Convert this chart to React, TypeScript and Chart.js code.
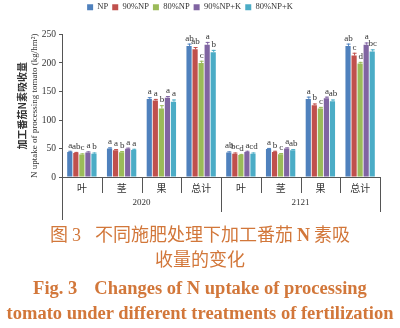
import React, { useEffect, useRef } from "react";
import { Chart, registerables, layouts } from "chart.js";

Chart.register(...registerables);

const categories = ["叶", "茎", "果", "总计", "叶", "茎", "果", "总计"];
const years = ["2020", "2121"];
const seriesNames = ["NP", "90%NP", "80%NP", "90%NP+K", "80%NP+K"];
const colors = ["#4F81BD", "#C0504D", "#9BBB59", "#8064A2", "#4BACC6"];

const npValues = [44, 50, 137, 230, 43, 49, 137, 230];
const np90Values = [42, 47, 134, 224, 41, 44, 126, 213];
const np80Values = [39.5, 43.5, 120, 200, 38.5, 40, 120, 199];
const np90kValues = [43, 49.5, 139, 232, 44, 50, 138, 232];
const np80kValues = [41, 47.5, 132, 219, 41, 47, 133, 220];

const npErr = [2, 2, 3, 4, 2, 2, 4, 4];
const np90Err = [2, 2, 3, 4, 2, 2, 3, 5];
const np80Err = [2, 2, 6, 4, 2, 2, 3, 3];
const np90kErr = [2, 2, 3, 5, 2, 2, 3, 4];
const np80kErr = [2, 2, 4, 4, 2, 2, 3, 4];

const npLetters = ["a", "a", "a", "ab", "ab", "a", "a", "ab"];
const np90Letters = ["ab", "a", "a", "ab", "bc", "b", "b", "c"];
const np80Letters = ["c", "b", "b", "c", "d", "c", "c", "d"];
const np90kLetters = ["a", "a", "a", "a", "a", "a", "a", "a"];
const np80kLetters = ["b", "a", "a", "b", "cd", "ab", "ab", "bc"];

const yTicks = [0, 50, 100, 150, 200, 250];

const allValues = [npValues, np90Values, np80Values, np90kValues, np80kValues];
const allErr = [npErr, np90Err, np80Err, np90kErr, np80kErr];
const allLetters = [npLetters, np90Letters, np80Letters, np90kLetters, np80kLetters];

const AXIS = "#555";
const TEXT = "#333";

const spacerPlugin = {
  id: "legendSpacer",
  start(chart: any) {
    const box: any = {
      position: "top",
      weight: 0,
      fullSize: true,
      options: { position: "top", weight: 0, fullSize: true },
      left: 0,
      top: 0,
      right: 0,
      bottom: 0,
      width: 0,
      height: 0,
      update(maxWidth: number) {
        this.width = maxWidth;
        this.height = 13;
      },
      isHorizontal() {
        return true;
      },
      draw() {},
    };
    layouts.addBox(chart, box);
  },
};

const extrasPlugin = {
  id: "extras",
  afterDatasetsDraw(chart: any) {
    const ctx = chart.ctx;
    const ys = chart.scales.y;
    const xs = chart.scales.x;
    const area = chart.chartArea;
    ctx.save();
    chart.data.datasets.forEach((ds: any, i: number) => {
      const meta = chart.getDatasetMeta(i);
      meta.data.forEach((bar: any, j: number) => {
        const v = allValues[i][j];
        const e = allErr[i][j];
        const yTop = ys.getPixelForValue(v + e);
        const x = bar.x;
        ctx.strokeStyle = colors[i];
        ctx.lineWidth = 1;
        ctx.beginPath();
        ctx.moveTo(x + 0.5, bar.y);
        ctx.lineTo(x + 0.5, yTop);
        ctx.moveTo(x - 1.5, yTop + 0.5);
        ctx.lineTo(x + 2.5, yTop + 0.5);
        ctx.stroke();
        ctx.fillStyle = TEXT;
        ctx.font = "9px 'Liberation Serif'";
        ctx.textAlign = "center";
        ctx.textBaseline = "alphabetic";
        ctx.fillText(allLetters[i][j], x + 0.5, yTop - 3);
      });
    });
    const n = categories.length;
    const step = (area.right - area.left) / n;
    ctx.strokeStyle = AXIS;
    ctx.lineWidth = 1;
    ctx.beginPath();
    for (let k = 1; k < n; k++) {
      const bx = Math.round(area.left + step * k) + 0.5;
      ctx.moveTo(bx, area.bottom);
      ctx.lineTo(bx, k === n / 2 ? area.bottom + 35 : area.bottom + 16);
    }
    const rx = Math.round(area.right) + 0.5;
    ctx.moveTo(rx, area.bottom);
    ctx.lineTo(rx, area.bottom + 35);
    const lx = Math.round(area.left) + 0.5;
    ctx.moveTo(lx, area.bottom);
    ctx.lineTo(lx, area.bottom + 43);
    ctx.stroke();

    ctx.fillStyle = TEXT;
    ctx.textAlign = "center";
    ctx.textBaseline = "middle";
    ctx.font = "10px 'Noto Sans CJK SC'";
    for (let j = 0; j < n; j++) {
      const cx = xs.getPixelForValue(j);
      ctx.fillText(categories[j], cx, area.bottom + 11);
    }
    ctx.font = "9px 'Liberation Serif'";
    for (let g = 0; g < years.length; g++) {
      const cx = area.left + step * (g * 4 + 2);
      ctx.fillText(years[g], cx, area.bottom + 26);
    }

    const cy = (area.top + area.bottom) / 2;
    ctx.save();
    ctx.translate(22, cy);
    ctx.rotate(-Math.PI / 2);
    ctx.font = "bold 10px 'Noto Sans CJK SC'";
    ctx.fillStyle = TEXT;
    ctx.fillText("加工番茄N素吸收量", 0, 0);
    ctx.restore();
    ctx.save();
    ctx.translate(35, cy);
    ctx.rotate(-Math.PI / 2);
    ctx.font = "9px 'Liberation Serif'";
    ctx.fillStyle = TEXT;
    ctx.fillText("N uptake of processing tomato (kg/hm²)", 0, 0);
    ctx.restore();
    ctx.restore();
  },
};

function BarChart() {
  const ref = useRef<HTMLCanvasElement>(null);
  useEffect(() => {
    if (!ref.current) return;
    const chart = new Chart(ref.current, {
      type: "bar",
      data: {
        labels: categories.map((c, i) => (i < 4 ? years[0] : years[1]) + c),
        datasets: seriesNames.map((name, i) => ({
          label: name,
          data: allValues[i],
          backgroundColor: colors[i],
          borderWidth: 0,
          categoryPercentage: 0.76,
          barPercentage: 0.86,
        })),
      },
      options: {
        animation: false,
        responsive: false,
        layout: { padding: { left: 0, right: 20, top: -1, bottom: 45 } },
        plugins: {
          legend: {
            display: true,
            position: "top",
            labels: {
              boxWidth: 6,
              boxHeight: 6,
              padding: 4,
              color: TEXT,
              font: { size: 8.5, family: "'Liberation Serif'" },
            },
          },
          tooltip: { enabled: false },
        },
        scales: {
          x: {
            ticks: { display: false },
            grid: { display: false },
            border: { display: true, color: AXIS },
            afterFit: (s: any) => {
              s.height = 0;
            },
          },
          y: {
            min: 0,
            max: 250,
            afterBuildTicks: (s: any) => {
              s.ticks = yTicks.map((v) => ({ value: v }));
            },
            ticks: {
              color: TEXT,
              padding: 3,
              font: { size: 9.5, family: "'Liberation Serif'" },
            },
            grid: {
              display: true,
              drawOnChartArea: false,
              drawTicks: true,
              tickLength: 3,
              color: AXIS,
            },
            border: { display: true, color: AXIS },
            afterFit: (s: any) => {
              s.width = 62;
            },
          },
        },
      },
      plugins: [spacerPlugin, extrasPlugin],
    });
    return () => chart.destroy();
  }, []);
  return <canvas ref={ref} width={400} height={222} style={{ display: "block" }} />;
}

const CAP = "#D2773A";

export default function App() {
  const zh: React.CSSProperties = {
    position: "absolute",
    left: 0,
    width: 400,
    textAlign: "center",
    color: CAP,
    fontFamily: "'Noto Sans CJK SC'",
    fontSize: 18,
    lineHeight: "22px",
    whiteSpace: "nowrap",
  };
  const en: React.CSSProperties = {
    position: "absolute",
    left: 0,
    width: 400,
    textAlign: "center",
    color: CAP,
    fontFamily: "'Liberation Serif'",
    fontWeight: "bold",
    fontSize: 18.5,
    lineHeight: "22px",
    whiteSpace: "nowrap",
  };
  return (
    <div
      style={{
        position: "absolute",
        left: 0,
        top: 0,
        width: 400,
        height: 328,
        background: "#fff",
        overflow: "hidden",
      }}
    >
      <BarChart />
      <div style={{ ...zh, top: 222 }}>
        图 <span style={{ fontFamily: "'Liberation Serif'" }}>3</span>
        <span style={{ display: "inline-block", width: 14 }} />
        不同施肥处理下加工番茄 <span style={{ fontFamily: "'Liberation Serif'", fontWeight: "bold" }}>N</span> 素吸
      </div>
      <div style={{ ...zh, top: 247 }}>收量的变化</div>
      <div style={{ ...en, top: 277 }}>
        Fig. 3<span style={{ display: "inline-block", width: 17 }} />Changes of N uptake of processing
      </div>
      <div style={{ ...en, top: 302 }}>tomato under different treatments of fertilization</div>
    </div>
  );
}
